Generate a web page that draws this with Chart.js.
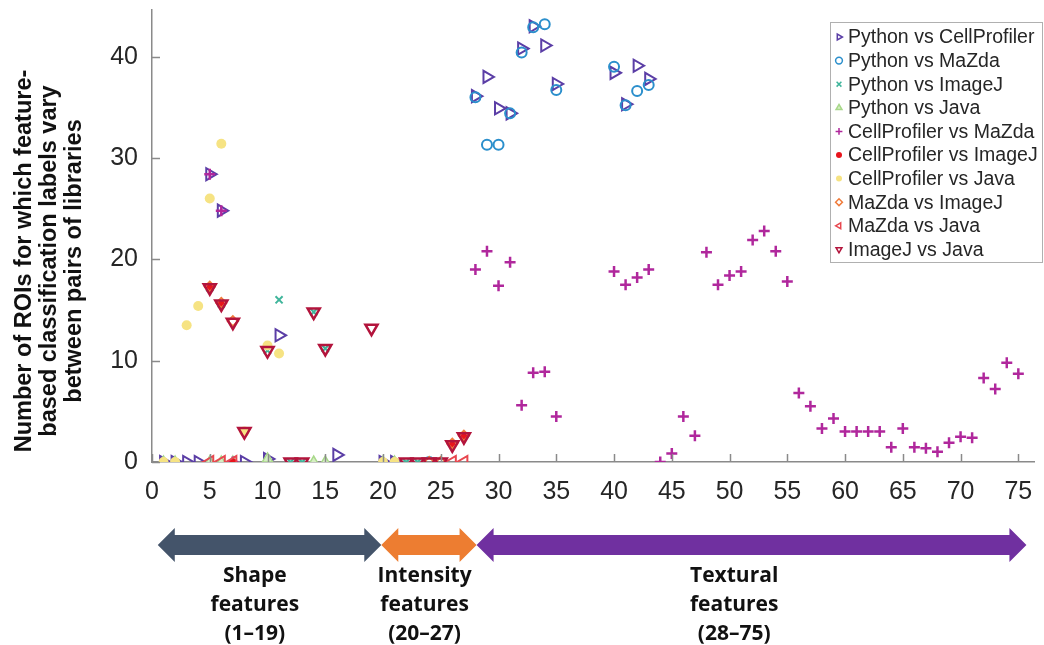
<!DOCTYPE html>
<html>
<head>
<meta charset="utf-8">
<script src="https://cdn.jsdelivr.net/npm/chart.js@4.4.1/dist/chart.umd.min.js"></script>
<style>
  html, body { margin: 0; padding: 0; background: #fff; }
  #wrap { width: 1044px; height: 645px; }
</style>
</head>
<body>
<div id="wrap"><canvas id="chart" width="1044" height="645"></canvas></div>
<script>
// axis ticks
const xTicks = [0, 5, 10, 15, 20, 25, 30, 35, 40, 45, 50, 55, 60, 65, 70, 75]
const yTicks = [0, 10, 20, 30, 40]

// feature groups along the x axis
const groupNames = [['Shape', 'features', '(1–19)'], ['Intensity', 'features', '(20–27)'], ['Textural', 'features', '(28–75)']]
const groupStart = [0.5, 19.85, 28.1]
const groupEnd = [19.85, 28.1, 75.7]
const groupLabelX = [8.9, 23.6, 50.4]

// series: feature index (x) and number of ROIs (y)
const pyCpX = [1, 2, 3, 4, 5, 6, 8, 10, 11, 16, 20, 21, 28, 29, 30, 31, 32, 33, 34, 35, 40, 41, 42, 43]
const pyCpY = [0, 0, 0, 0, 28.4, 24.8, 0, 0.3, 12.5, 0.7, 0, 0, 36.1, 38.0, 34.9, 34.4, 40.8, 43.0, 41.1, 37.3, 38.4, 35.3, 39.1, 37.8]

const pyMzX = [24, 28, 29, 30, 31, 32, 33, 34, 35, 40, 41, 42, 43]
const pyMzY = [0, 36.0, 31.3, 31.3, 34.4, 40.4, 42.9, 43.2, 36.7, 39.0, 35.2, 36.6, 37.2]

const pyIjX = [5, 6, 10, 11, 12, 13, 14, 15, 22, 23]
const pyIjY = [17.2, 15.6, 11.0, 16.0, 0, 0, 14.8, 11.2, 0, 0]

const pyJvX = [1, 2, 5, 6, 7, 10, 14, 15, 20, 21]
const pyJvY = [0, 0, 0, 0, 0, 0.3, 0, 0, 0, 0]

const cpMzX = [5, 6, 7, 28, 29, 30, 31, 32, 33, 34, 35,
  40, 41, 42, 43, 44, 45, 46, 47, 48, 49, 50, 51, 52, 53, 54, 55, 56, 57,
  58, 59, 60, 61, 62, 63, 64, 65, 66, 67, 68, 69, 70, 71, 72, 73, 74, 75]
const cpMzY = [28.4, 24.8, 0, 19.0, 20.8, 17.4, 19.7, 5.6, 8.8, 8.9, 4.5,
  18.8, 17.5, 18.2, 19.0, 0, 0.85, 4.5, 2.6, 20.7, 17.5, 18.4, 18.8, 21.9, 22.8, 20.8, 17.8, 6.8, 5.5,
  3.3, 4.3, 3.0, 3.0, 3.0, 3.0, 1.45, 3.3, 1.45, 1.35, 1.0, 1.9, 2.5, 2.4, 8.3, 7.2, 9.8, 8.7]

const cpIjX = [5, 6, 7, 26, 27]
const cpIjY = [17.2, 15.6, 0, 1.7, 2.5]

const cpJvX = [1, 2, 3, 4, 5, 6, 8, 10, 11, 20, 21]
const cpJvY = [0, 0, 13.5, 15.4, 26.0, 31.4, 3.0, 11.5, 10.7, 0, 0]

const mzIjX = [5, 6, 7, 24, 25, 26, 27]
const mzIjY = [17.3, 15.7, 13.9, 0, 0, 1.8, 2.6]

const mzJvX = [5, 6, 7, 26, 27]
const mzJvY = [0, 0, 0, 0, 0]

const ijJvX = [5, 6, 7, 8, 10, 12, 13, 14, 15, 19, 22, 23, 24, 25, 26, 27]
const ijJvY = [17.2, 15.6, 13.8, 3.0, 11.0, 0, 0, 14.8, 11.2, 13.2, 0, 0, 0, 0, 1.7, 2.5]

const toPoints = (xs, ys) => xs.map((x, i) => ({ x: x, y: ys[i] }))

let idx = 0
function series(label, xs, ys, st) {
  idx++
  return {
    label: label,
    data: toPoints(xs, ys),
    order: -idx,
    showLine: false,
    pointStyle: st.style,
    rotation: st.rotation || 0,
    pointRadius: st.radius,
    pointHoverRadius: st.radius,
    pointBorderWidth: st.width,
    pointBorderColor: st.color,
    pointBackgroundColor: st.fill || 'rgba(0,0,0,0)',
    legendRadius: st.legendRadius || 3.4
  }
}

const datasets = [
  series('Python vs CellProfiler', pyCpX, pyCpY, { style: 'triangle', rotation: 90, radius: 7, width: 2, color: '#5b3ea6' }),
  series('Python vs MaZda', pyMzX, pyMzY, { style: 'circle', radius: 5, width: 2, color: '#2b8fcc' }),
  series('Python vs ImageJ', pyIjX, pyIjY, { style: 'crossRot', radius: 5, width: 2, color: '#3fb59b' }),
  series('Python vs Java', pyJvX, pyJvY, { style: 'triangle', radius: 6, width: 1.5, color: '#a8d88a', fill: '#d6eec4' }),
  series('CellProfiler vs MaZda', cpMzX, cpMzY, { style: 'cross', radius: 5.5, width: 2.5, color: '#b0279c' }),
  series('CellProfiler vs ImageJ', cpIjX, cpIjY, { style: 'circle', radius: 3.5, width: 0, color: '#e8141c', fill: '#e8141c', legendRadius: 3 }),
  series('CellProfiler vs Java', cpJvX, cpJvY, { style: 'circle', radius: 5, width: 0, color: '#f6e383', fill: '#f6e383', legendRadius: 3 }),
  series('MaZda vs ImageJ', mzIjX, mzIjY, { style: 'rectRot', radius: 5, width: 2, color: '#f07c3c' }),
  series('MaZda vs Java', mzJvX, mzJvY, { style: 'triangle', rotation: 270, radius: 7, width: 2, color: '#e8474f' }),
  series('ImageJ vs Java', ijJvX, ijJvY, { style: 'triangle', rotation: 180, radius: 7, width: 2.5, color: '#b3143c' })
]

const axisGray = '#8a8a8a'
const textColor = '#262626'

const extras = {
  id: 'extras',
  afterDraw(chart) {
    const ctx = chart.ctx
    const xs = chart.scales.x
    const ys = chart.scales.y
    const area = chart.chartArea

    // inward ticks, as in the original figure
    ctx.save()
    ctx.strokeStyle = axisGray
    ctx.lineWidth = 1.5
    ctx.beginPath()
    yTicks.forEach(v => {
      const py = Math.round(ys.getPixelForValue(v)) + 0.5
      ctx.moveTo(area.left, py)
      ctx.lineTo(area.left + 8, py)
    })
    xTicks.forEach(v => {
      const px = Math.round(xs.getPixelForValue(v)) + 0.5
      ctx.moveTo(px, area.bottom)
      ctx.lineTo(px, area.bottom - 8)
    })
    ctx.stroke()
    ctx.restore()

    // y axis title, three lines
    ctx.save()
    ctx.translate(0, 261)
    ctx.rotate(-Math.PI / 2)
    ctx.fillStyle = '#111'
    ctx.font = 'bold 23.5px "Liberation Sans", Arial, sans-serif'
    ctx.textAlign = 'center'
    ctx.textBaseline = 'middle'
    const yTitle = ['Number of ROIs for which feature-', 'based classification labels vary', 'between pairs of libraries']
    const titleX = [25, 50, 75]
    yTitle.forEach((t, i) => ctx.fillText(t, 0, titleX[i]))
    ctx.restore()

    // legend box
    ctx.save()
    ctx.fillStyle = '#fff'
    ctx.fillRect(830, 22, 212, 240)
    ctx.strokeStyle = '#b0b0b0'
    ctx.lineWidth = 1
    ctx.strokeRect(830.5, 22.5, 212, 240)
    ctx.font = '19.5px "Liberation Sans", Arial, sans-serif'
    ctx.textBaseline = 'middle'
    ctx.textAlign = 'left'
    datasets.forEach((ds, i) => {
      const ly = 37 + i * 23.6
      ctx.save()
      ctx.strokeStyle = ds.pointBorderColor
      ctx.fillStyle = ds.pointBackgroundColor
      ctx.lineWidth = Math.min(ds.pointBorderWidth, 1.5)
      Chart.helpers.drawPoint(ctx, {
        pointStyle: ds.pointStyle,
        rotation: ds.rotation,
        radius: ds.legendRadius,
        borderWidth: ds.pointBorderWidth > 0 ? 1.5 : 0
      }, 839, ly)
      ctx.restore()
      ctx.fillStyle = textColor
      ctx.fillText(ds.label, 848, ly + 1)
    })
    ctx.restore()

    // feature group arrows under the axis
    const groupColors = ['#44546a', '#ed7d31', '#7030a0']
    const cy = 545
    groupNames.forEach((lines, i) => {
      const x0 = xs.getPixelForValue(groupStart[i])
      const x1 = xs.getPixelForValue(groupEnd[i])
      const head = 17
      ctx.save()
      ctx.fillStyle = groupColors[i]
      ctx.beginPath()
      ctx.moveTo(x0, cy)
      ctx.lineTo(x0 + head, cy - 17)
      ctx.lineTo(x0 + head, cy - 10)
      ctx.lineTo(x1 - head, cy - 10)
      ctx.lineTo(x1 - head, cy - 17)
      ctx.lineTo(x1, cy)
      ctx.lineTo(x1 - head, cy + 17)
      ctx.lineTo(x1 - head, cy + 10)
      ctx.lineTo(x0 + head, cy + 10)
      ctx.lineTo(x0 + head, cy + 17)
      ctx.closePath()
      ctx.fill()
      ctx.fillStyle = '#111'
      ctx.font = 'bold 21px "Open Sans", sans-serif'
      ctx.textAlign = 'center'
      ctx.textBaseline = 'middle'
      const lx = xs.getPixelForValue(groupLabelX[i])
      lines.forEach((t, j) => ctx.fillText(t, lx, 576 + j * 29))
      ctx.restore()
    })
  }
}

const chart = new Chart(document.getElementById('chart'), {
  type: 'scatter',
  data: { datasets: datasets },
  options: {
    responsive: false,
    animation: false,
    devicePixelRatio: 1,
    layout: { padding: { left: 0, top: 10, right: 6, bottom: 145 } },
    plugins: {
      legend: { display: false },
      tooltip: { enabled: false }
    },
    scales: {
      x: {
        type: 'linear',
        min: 0,
        max: 76.4,
        afterBuildTicks: s => { s.ticks = xTicks.map(v => ({ value: v })) },
        afterFit: s => { s.height = 38; s.paddingLeft = 0; s.paddingRight = 0 },
        grid: { display: false, drawTicks: false },
        border: { display: true, color: axisGray, width: 1.5 },
        ticks: {
          padding: 15,
          color: textColor,
          maxRotation: 0,
          autoSkip: false,
          font: { family: '"Liberation Sans", Arial, sans-serif', size: 25 }
        }
      },
      y: {
        type: 'linear',
        min: 0,
        max: 44.6,
        afterBuildTicks: s => { s.ticks = yTicks.map(v => ({ value: v })) },
        afterFit: s => { s.width = 152; s.paddingTop = 0; s.paddingBottom = 0 },
        grid: { display: false, drawTicks: false },
        border: { display: true, color: axisGray, width: 1.5 },
        ticks: {
          padding: 14,
          color: textColor,
          font: { family: '"Liberation Sans", Arial, sans-serif', size: 25 }
        }
      }
    }
  },
  plugins: [extras]
})
</script>
</body>
</html>
